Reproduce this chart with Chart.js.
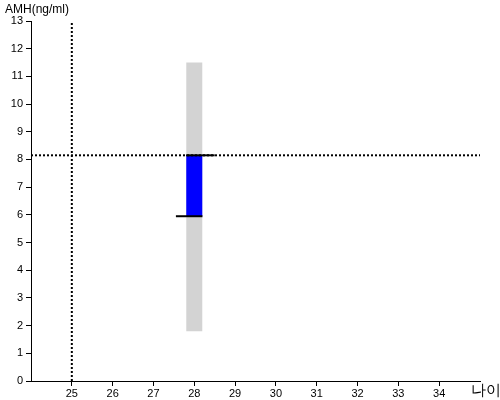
<!DOCTYPE html>
<html>
<head>
<meta charset="utf-8">
<script src="https://cdn.jsdelivr.net/npm/chart.js@4"></script>
<style>
  body { margin: 0; background: #fff; }
  #wrap { width: 500px; height: 400px; }
</style>
</head>
<body>
<div id="wrap"><canvas id="amhChart" width="500" height="400"></canvas></div>
<script>
// axis ranges
const ageRange = [24, 35];
const amhRange = [0, 13];
const ageTicks = [25, 26, 27, 28, 29, 30, 31, 32, 33, 34];

// patient values
const patientAge = 28;
const normalRange = [1.8, 11.5];   // gray band
const amhRange2 = [5.95, 8.15];    // blue bar
const lowerMark = [27.55, 28.2];   // black line at amhRange2[0]
const upperMark = [27.8, 28.5];    // black line at amhRange2[1]

// dotted reference lines
const refAge = 25;
const refAmh = 8.15;

const font = { family: 'Liberation Sans, Arial, sans-serif', size: 11 };

// lower order = drawn on top
const data = {
  datasets: [
    {
      data: [{ x: patientAge, y: normalRange[0] }, { x: patientAge, y: normalRange[1] }],
      borderColor: '#d3d3d3', borderWidth: 16, borderCapStyle: 'butt', order: 6
    },
    {
      data: [{ x: patientAge, y: amhRange2[0] }, { x: patientAge, y: amhRange2[1] }],
      borderColor: '#0000ff', borderWidth: 16, borderCapStyle: 'butt', order: 5
    },
    {
      data: [{ x: refAge, y: amhRange[0] }, { x: refAge, y: amhRange[1] }],
      borderColor: '#000', borderWidth: 2, borderDash: [2, 2], order: 4
    },
    {
      data: [{ x: ageRange[0], y: refAmh }, { x: ageRange[1], y: refAmh }],
      borderColor: '#000', borderWidth: 2, borderDash: [2, 2], order: 3
    },
    {
      data: [{ x: lowerMark[0], y: amhRange2[0] }, { x: lowerMark[1], y: amhRange2[0] }],
      borderColor: '#000', borderWidth: 2, order: 2
    },
    {
      data: [{ x: upperMark[0], y: amhRange2[1] }, { x: upperMark[1], y: amhRange2[1] }],
      borderColor: '#000', borderWidth: 2, order: 1
    }
  ]
};

// axis captions
const captions = {
  id: 'captions',
  afterDraw(chart) {
    const ctx = chart.ctx;
    ctx.save();
    ctx.fillStyle = '#000';
    ctx.textBaseline = 'middle';
    ctx.textAlign = 'left';
    ctx.font = '12px ' + font.family;
    ctx.fillText('AMH(ng/ml)', 5, 10);
    ctx.font = '15px ' + font.family;
    ctx.fillText('나이', 471, 391);
    ctx.restore();
  }
};

const config = {
  type: 'scatter',
  data: data,
  options: {
    responsive: false,
    animation: false,
    showLine: true,
    elements: { point: { radius: 0, hoverRadius: 0 } },
    layout: { padding: { left: 0, top: 21, right: 20, bottom: 0 } },
    plugins: { legend: { display: false }, tooltip: { enabled: false } },
    scales: {
      x: {
        type: 'linear',
        min: ageRange[0], max: ageRange[1],
        afterFit: s => { s.height = 19; },
        afterBuildTicks: s => { s.ticks = ageTicks.map(v => ({ value: v })); },
        ticks: { font: font, color: '#000', padding: 1, autoSkip: false, maxRotation: 0 },
        grid: { drawOnChartArea: false, tickLength: 5, color: '#000' },
        border: { color: '#000', width: 1 }
      },
      y: {
        min: amhRange[0], max: amhRange[1],
        afterFit: s => { s.width = 31; },
        ticks: { stepSize: 1, font: font, color: '#000', padding: 3 },
        grid: { drawOnChartArea: false, tickLength: 5, color: '#000' },
        border: { color: '#000', width: 1 }
      }
    }
  },
  plugins: [captions]
};

const amhChart = new Chart(document.getElementById('amhChart'), config);
</script>
</body>
</html>
